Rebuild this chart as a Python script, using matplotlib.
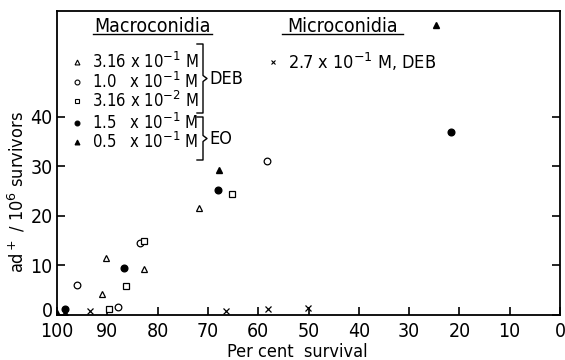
import matplotlib
matplotlib.use('Agg')
import matplotlib.pyplot as plt
from matplotlib.lines import Line2D
from matplotlib import font_manager
from matplotlib.transforms import ScaledTranslation

# Macroconidia, DEB
tri_open_x = [90.2, 91.0, 82.7, 71.7]
tri_open_y = [11.5, 4.2, 9.3, 21.6]
circ_open_x = [96.0, 87.8, 83.5, 58.2]
circ_open_y = [6.0, 1.7, 14.5, 31.1]
sq_open_x = [89.6, 86.3, 82.7, 65.2]
sq_open_y = [1.2, 5.9, 15.0, 24.4]
# Macroconidia, EO
circ_fill_x = [98.4, 86.6, 67.9, 21.7]
circ_fill_y = [1.2, 9.4, 25.3, 37.0]
tri_fill_x = [100.0, 98.4, 67.7, 24.7]
tri_fill_y = [0.5, 0.5, 29.3, 58.6]
# Microconidia
cross_x = [93.4, 66.5, 58.1, 50.1]
cross_y = [0.9, 0.9, 1.3, 1.4]

legend_labels = ['3.16 x 10$^{-1}$ M', '1.0 $\\;$ x 10$^{-1}$ M', '3.16 x 10$^{-2}$ M',
                 '1.5 $\\;$ x 10$^{-1}$ M', '0.5 $\\;$ x 10$^{-1}$ M']
micro_label = '2.7 x 10$^{-1}$ M, DEB'

# look for a condensed face, the original lettering is tall and narrow
cands = [f for f in font_manager.fontManager.ttflist
         if f.style == 'normal' and f.weight in (400, 'normal')
         and ('Condensed' in f.fname or 'Narrow' in f.fname or 'Narrow' in f.name)]
cands.sort(key=lambda f: ('DejaVu' not in f.fname, f.fname))
if cands:
    cond = font_manager.FontProperties(fname=cands[0].fname)
else:
    cond = font_manager.FontProperties(family='DejaVu Sans')
plt.rcParams['mathtext.fontset'] = 'custom'
plt.rcParams['mathtext.rm'] = cond.get_name()

W, H = 565, 360
fig = plt.figure(figsize=(W / 100, H / 100), dpi=100)
ax = fig.add_axes([57 / W, 1 - 315 / H, 503 / W, 304 / H])

ms = 4.8
ax.plot(tri_open_x, tri_open_y, '^', ms=ms, mfc='white', mec='black', mew=0.9, ls='none')
ax.plot(circ_open_x, circ_open_y, 'o', ms=ms, mfc='white', mec='black', mew=0.9, ls='none')
ax.plot(sq_open_x, sq_open_y, 's', ms=ms, mfc='white', mec='black', mew=0.9, ls='none')
ax.plot(circ_fill_x, circ_fill_y, 'o', ms=ms, color='black', ls='none')
ax.plot(tri_fill_x, tri_fill_y, '^', ms=ms, color='black', ls='none')
ax.plot(cross_x, cross_y, 'x', ms=ms, color='black', mew=0.9, ls='none')

ax.set_xlim(100, 0)
ax.set_ylim(0, 61.4)
ax.set_xticks(range(100, -1, -10))
ax.set_yticks([0, 10, 20, 30, 40])
ax.tick_params(direction='in', length=6, width=1.2, right=True)
ax.tick_params(axis='x', pad=5)
ax.tick_params(axis='y', pad=3)
for lab in ax.get_xticklabels() + ax.get_yticklabels():
    lab.set_fontproperties(cond)
    lab.set_fontsize(14)
# the 0 on the y axis sits a little above the corner
zero = ax.get_yticklabels()[0]
zero.set_transform(zero.get_transform() + ScaledTranslation(0, 4 / 72, fig.dpi_scale_trans))
for s in ax.spines.values():
    s.set_linewidth(1.3)

def px(x, y):
    return x / W, 1 - y / H

def txt(x, y, s, size, **kw):
    t = fig.text(*px(x, y), s, fontproperties=cond, **kw)
    t.set_fontsize(size)
    return t

txt(297, 352, 'Per cent  survival', 13, ha='center', va='center')
txt(17, 192, r'ad$^+$ / 10$^6$ survivors', 13, rotation=90, ha='center', va='center')

# legend block
fs = 12
txt(152, 26, 'Macroconidia', 14, ha='center', va='center')
fig.add_artist(Line2D([93 / W, 212 / W], [1 - 34 / H] * 2, color='black', lw=1))
txt(343, 26, 'Microconidia', 14, ha='center', va='center')
fig.add_artist(Line2D([282 / W, 403 / W], [1 - 34 / H] * 2, color='black', lw=1))

markers = [('^', 'white'), ('o', 'white'), ('s', 'white'), ('o', 'black'), ('^', 'black')]
rows_y = [62, 82, 101, 123, 142]
for (m, fc), label, y in zip(markers, legend_labels, rows_y):
    fig.add_artist(Line2D([77 / W], [1 - y / H], marker=m, ms=3.5, mfc=fc,
                          mec='black', mew=0.8, ls='none'))
    txt(92, y, label, fs, ha='left', va='center')

def bracket(y0, y1, label):
    ym = (y0 + y1) / 2
    xs = [197, 203, 203, 207, 203, 203, 197]
    ys = [y0, y0, ym - 3, ym, ym + 3, y1, y1]
    fig.add_artist(Line2D([x / W for x in xs], [1 - y / H for y in ys],
                          color='black', lw=1))
    txt(209, ym, label, 13, ha='left', va='center')

bracket(44, 113, 'DEB')
bracket(117, 160, 'EO')

fig.add_artist(Line2D([273 / W], [1 - 62 / H], marker='x', ms=3.5, color='black',
                      mew=0.8, ls='none'))
txt(288, 62, micro_label, 13, ha='left', va='center')

fig.savefig('out.png', dpi=100)
